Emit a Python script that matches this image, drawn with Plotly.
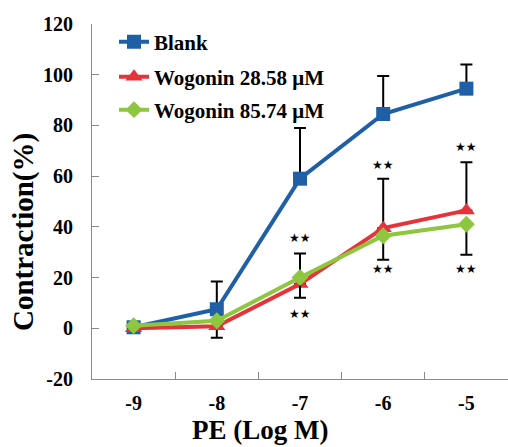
import plotly.graph_objects as go

x_vals = [-9, -8, -7, -6, -5]
x_labels = ["-9", "-8", "-7", "-6", "-5"]
y_vals = [-20, 0, 20, 40, 60, 80, 100, 120]
y_labels = ["-20", "0", "20", "40", "60", "80", "100", "120"]
blank = [0.4, 7.5, 59, 84.5, 94.5]
blank_err_up = [0, 11, 20, 15, 9.5]
wog1 = [0, 0.8, 17.5, 39.5, 46.5]
wog1_err_up = [0, 0, 12, 19.5, 19]
wog1_err_down = [0, 4.5, 0, 0, 0]
wog2 = [1, 3, 20, 36.5, 41]
wog2_err_down = [0, 0, 8, 9.5, 12]
star_x = [-7, -7, -6, -6, -5, -5]
star_y = [35.5, 5.5, 64.5, 23.5, 71.5, 23.5]

serif = "Liberation Serif"
PL, PT, PW, PH = 92, 24, 416, 355


def px_x(p):
    return (p - PL) / PW


def px_y(p):
    return (PT + PH - p) / PH


fig = go.Figure()
fig.add_trace(go.Scatter(
    x=x_vals, y=blank, name="Blank", mode="lines+markers", legend="legend",
    line=dict(color="#1F5FA6", width=4),
    marker=dict(symbol="square", size=14, color="#1F5FA6"),
    error_y=dict(type="data", symmetric=False, array=blank_err_up,
                 arrayminus=[0]*5, color="black", thickness=2, width=6)))
fig.add_trace(go.Scatter(
    x=x_vals, y=wog1, name="Wogonin 28.58 μM", mode="lines+markers", legend="legend2",
    line=dict(color="#E6323A", width=4),
    marker=dict(symbol="triangle-up", size=15, color="#E6323A"),
    error_y=dict(type="data", symmetric=False, array=wog1_err_up,
                 arrayminus=wog1_err_down, color="black", thickness=2, width=6)))
fig.add_trace(go.Scatter(
    x=x_vals, y=wog2, name="Wogonin 85.74 μM", mode="lines+markers", legend="legend3",
    line=dict(color="#8DC63F", width=4),
    marker=dict(symbol="diamond", size=13, color="#8DC63F"),
    error_y=dict(type="data", symmetric=False, array=[0]*5,
                 arrayminus=wog2_err_down, color="black", thickness=2, width=6)))

for sx, sy in zip(star_x, star_y):
    fig.add_annotation(x=sx, y=sy, text="★★", showarrow=False,
                       font=dict(family="DejaVu Sans", size=12, color="black"))

fig.add_annotation(xref="paper", yref="paper", x=px_x(260), y=px_y(430),
                   xanchor="center", yanchor="middle",
                   text="PE (Log M)", showarrow=False,
                   font=dict(family=serif, size=27, color="black", weight="bold"))
fig.add_annotation(xref="paper", yref="paper", x=px_x(23), y=px_y(232),
                   xanchor="center", yanchor="middle",
                   text="Contraction(%)", showarrow=False, textangle=-90,
                   font=dict(family=serif, size=29, color="black", weight="bold"))

legend_font = dict(family=serif, size=21, color="black", weight="bold")


def leg(yc):
    return dict(x=px_x(114), y=px_y(yc), xanchor="left", yanchor="middle",
                bgcolor="rgba(0,0,0,0)", font=legend_font, itemwidth=30)


fig.update_layout(
    width=508, height=447,
    margin=dict(l=PL, r=508 - PL - PW, t=PT, b=447 - PT - PH),
    paper_bgcolor="white", plot_bgcolor="white",
    showlegend=True,
    legend=leg(42), legend2=leg(77), legend3=leg(110),
    xaxis=dict(range=[-9.5, -4.5], tickvals=x_vals, ticktext=x_labels,
               ticks="", showgrid=False, zeroline=False, showline=True,
               linecolor="#8a8a8a", linewidth=1,
               tickfont=dict(family=serif, size=20, color="black", weight="bold"),
               ticklabelstandoff=6,
               minor=dict(tickvals=[-8.5, -7.5, -6.5, -5.5], ticks="inside",
                          ticklen=7, tickcolor="#8a8a8a", tickwidth=1)),
    yaxis=dict(range=[-20, 120], tickvals=y_vals, ticktext=y_labels,
               ticks="inside", ticklen=7,
               tickcolor="#8a8a8a", showgrid=False, zeroline=False, showline=True,
               linecolor="#8a8a8a", linewidth=1,
               tickfont=dict(family=serif, size=20, color="black", weight="bold"),
               ticklabelstandoff=14),
)

fig.write_html("out.html")
